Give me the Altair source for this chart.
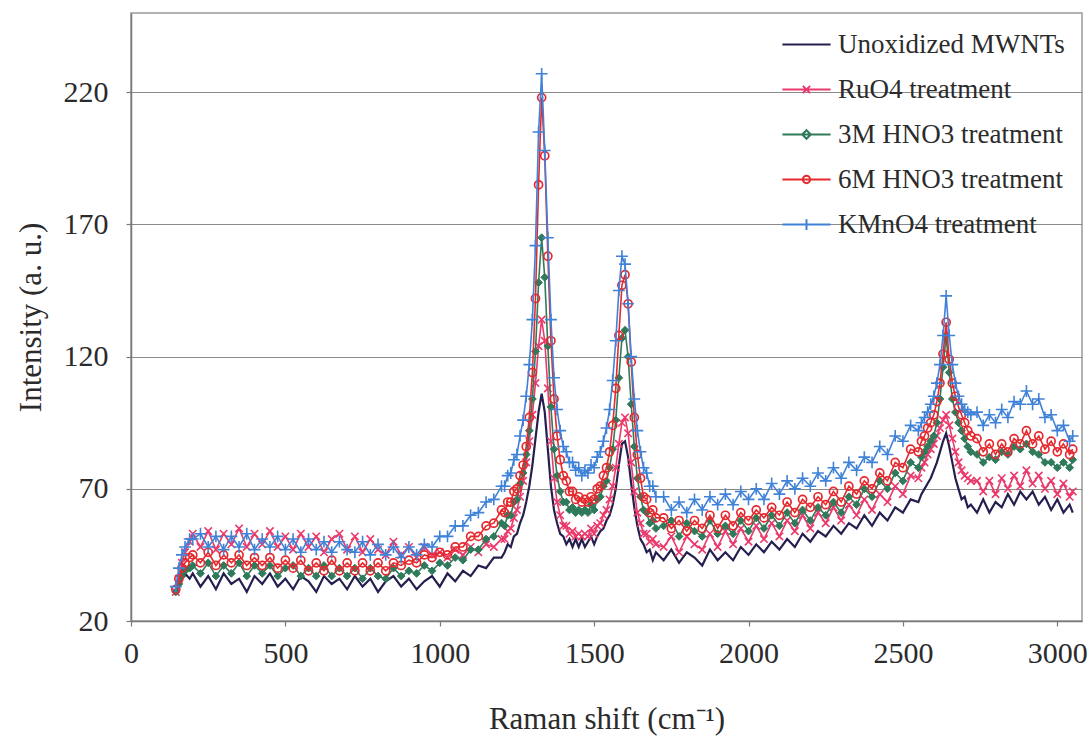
import altair as alt
import pandas as pd

# ---------------- data ----------------
raman_shift = [
    145, 155, 165, 175, 190, 200, 225, 250, 275, 300, 325, 350, 375, 400, 425, 450,
    475, 500, 525, 550, 575, 600, 625, 650, 675, 700, 725, 750, 775, 800, 825, 850,
    875, 900, 925, 950, 975, 1000, 1025, 1050, 1075, 1100, 1125, 1150, 1175, 1200,
    1210, 1220, 1230, 1240, 1250, 1260, 1270, 1280, 1290, 1300,
    1310, 1320, 1330, 1340, 1350, 1360, 1370, 1380, 1390, 1400,
    1410, 1420, 1430, 1440, 1450, 1460, 1470, 1480, 1490, 1500,
    1510, 1520, 1530, 1540, 1550, 1560, 1570, 1580, 1590, 1600,
    1610, 1620, 1630, 1640, 1650, 1660, 1670, 1680, 1690, 1700,
    1725, 1750, 1775, 1800, 1825, 1850, 1875, 1900, 1925, 1950, 1975, 2000,
    2025, 2050, 2075, 2100, 2125, 2150, 2175, 2200, 2225, 2250, 2275, 2300,
    2325, 2350, 2375, 2400, 2425, 2450, 2475, 2500, 2525, 2550,
    2560, 2570, 2580, 2590, 2600, 2610, 2620, 2630, 2640, 2650, 2660, 2670,
    2680, 2690, 2700, 2710, 2720,
    2740, 2760, 2780, 2800, 2820, 2840, 2860, 2880, 2900, 2920, 2940, 2960,
    2980, 3000, 3020, 3040, 3050,
]

unoxidized = [
    30, 33, 36, 38, 36,
    38, 33, 37, 32, 38, 34, 36, 31, 37, 34, 38, 33, 36, 32, 37, 35, 31, 37, 34, 36,
    32, 37, 33, 36, 31, 35, 37, 33, 36, 32, 35, 37, 33, 38, 35, 39, 37, 41, 40, 44, 44,
    46, 49, 48, 52, 53, 57, 60, 65, 71, 79,
    89, 99, 106, 99, 85, 71, 62, 57, 53, 52,
    49, 51, 48, 51, 48, 51, 48, 50, 52, 49,
    52, 54, 55, 58, 60, 64, 70, 79, 87, 88,
    82, 72, 63, 56, 51, 49, 46, 47, 43, 46,
    43, 47, 42, 46, 44, 41, 47, 43, 46, 43, 48, 45, 49, 46, 50, 47, 51, 48, 53, 50,
    54, 52, 56, 53, 57, 55, 60, 56, 61, 58, 63, 61, 66, 65,
    68, 70, 72, 74, 77, 80, 84, 88, 91, 86, 80, 74, 70, 66, 67, 63, 64,
    61, 66, 61, 65, 63, 68, 64, 69, 66, 69, 64, 67, 62, 66, 61, 64, 61,
]

ruo4 = [
    31, 36, 42, 46, 50,
    53, 48, 54, 47, 53, 49, 55, 48, 53, 49, 54, 48, 52, 47, 53, 48, 52, 46, 51, 53,
    47, 52, 46, 51, 47, 45, 50, 45, 48, 44, 48, 45, 46, 44, 47, 45, 48, 46, 49, 48, 51,
    51, 54, 55, 59, 62, 67, 73, 80, 88, 98,
    110, 124, 134, 126, 108, 88, 74, 65, 60, 56,
    56, 53, 54, 52, 53, 52, 53, 52, 55, 53,
    56, 57, 60, 62, 66, 71, 78, 87, 95, 97,
    91, 80, 69, 61, 57, 53, 53, 50, 51, 49,
    48, 52, 46, 52, 49, 47, 53, 48, 54, 49, 55, 50, 56, 51, 57, 52, 58, 54, 60, 55,
    61, 57, 63, 58, 64, 60, 66, 62, 68, 65, 71, 68, 75, 74,
    78, 80, 83, 85, 87, 90, 93, 96, 98, 94, 89, 84, 80, 77, 75, 74, 73,
    73, 69, 73, 68, 74, 70, 75, 71, 77, 72, 75, 70, 73, 68, 72, 67, 69,
]

hno3_3m = [
    31, 34, 37, 39, 40,
    41, 38, 42, 37, 41, 38, 42, 37, 41, 38, 41, 37, 40, 41, 37, 40, 37, 41, 37, 40,
    37, 40, 36, 40, 37, 36, 40, 37, 39, 38, 41, 39, 42, 41, 44, 43, 47, 47, 51, 52, 57,
    56, 60, 60, 65, 66, 72, 76, 83, 92, 104,
    122, 148, 165, 150, 124, 101, 85, 75, 69, 65,
    65, 62, 63, 61, 62, 61, 62, 61, 64, 62,
    66, 67, 71, 73, 78, 85, 96, 112, 127, 130,
    120, 102, 86, 74, 67, 62, 61, 57, 58, 55,
    56, 58, 52, 57, 54, 52, 58, 53, 56, 53, 58, 54, 59, 55, 60, 56, 61, 57, 62, 58,
    63, 60, 65, 61, 67, 64, 70, 67, 73, 70, 76, 73, 80, 78,
    82, 84, 86, 88, 90, 95, 104, 116, 128, 114, 104, 99, 95, 92, 89, 86, 84,
    83, 80, 82, 81, 84, 83, 86, 85, 87, 84, 83, 80, 80, 78, 80, 78, 81,
]

hno3_6m = [
    32, 36, 40, 42, 44,
    45, 42, 46, 41, 45, 42, 45, 41, 44, 41, 44, 40, 43, 40, 43, 39, 42, 39, 43, 39,
    42, 39, 42, 39, 42, 39, 42, 41, 43, 42, 45, 44, 46, 45, 48, 48, 52, 52, 56, 57, 62,
    61, 65, 65, 69, 70, 75, 79, 86, 97, 114,
    142, 185, 218, 196, 158, 126, 104, 90, 81, 75,
    73, 69, 69, 66, 67, 65, 66, 65, 67, 66,
    70, 71, 75, 78, 84, 94, 108, 128, 147, 151,
    140, 118, 97, 83, 74, 67, 66, 61, 62, 59,
    59, 55, 58, 54, 58, 55, 60, 55, 60, 56, 61, 58, 62, 59, 63, 60, 65, 61, 66, 63,
    67, 64, 69, 65, 71, 68, 73, 70, 76, 73, 80, 78, 85, 84,
    88, 90, 93, 95, 98, 103, 110, 121, 133, 119, 110, 105, 101, 98, 95, 92, 90,
    89, 84, 87, 83, 87, 84, 89, 87, 92, 87, 90, 85, 88, 84, 87, 83, 85,
]

kmno4 = [
    33, 40, 45, 48, 51,
    51, 53, 48, 52, 47, 52, 48, 53, 47, 51, 48, 52, 47, 51, 46, 51, 47, 50, 46, 50,
    47, 46, 50, 45, 49, 45, 48, 44, 48, 45, 49, 48, 52, 52, 56, 56, 60, 61, 65, 66, 71,
    71, 75, 76, 81, 83, 90, 96, 105, 117, 134,
    162, 205, 227, 198, 165, 134, 112, 100, 92, 86,
    84, 80, 80, 77, 78, 75, 77, 76, 79, 78,
    82, 84, 88, 93, 100, 111, 126, 145, 158, 155,
    140, 120, 104, 92, 84, 78, 76, 71, 71, 67,
    67, 62, 65, 61, 66, 62, 67, 64, 68, 64, 69, 66, 70, 66, 72, 68, 73, 70, 74, 71,
    76, 73, 78, 74, 80, 77, 82, 80, 86, 83, 90, 88, 94, 92,
    95, 97, 99, 102, 105, 110, 117, 128, 143, 128, 117, 110, 105, 102, 100, 99, 98,
    99, 94, 98, 95, 100, 97, 103, 102, 107, 102, 104, 97, 98, 92, 94, 88, 90,
]

series_names = ["Unoxidized MWNTs", "RuO4 treatment", "3M HNO3 treatment",
                "6M HNO3 treatment", "KMnO4 treatment"]
series_values = [unoxidized, ruo4, hno3_3m, hno3_6m, kmno4]
series_colors = ["#241f4e", "#ea3a6c", "#2f7a5b", "#e52a2f", "#3f82d8"]

x_ticks = [0, 500, 1000, 1500, 2000, 2500, 3000]
y_ticks = [20, 70, 120, 170, 220]

for v in series_values:
    assert len(v) == len(raman_shift), (len(v), len(raman_shift))

# ---------------- styling ----------------
FONT = "Liberation Serif"
TEXT = "#2b2b2b"

marker_specs = [
    None,
    dict(shape="M-1,-1L1,1M-1,1L1,-1", size=55, filled=False, strokeWidth=1.6),
    dict(shape="diamond", size=60, filled=True, strokeWidth=1),
    dict(shape="circle", size=65, filled=False, strokeWidth=1.7),
    dict(shape="M-1,0H1M0,-1V1", size=140, filled=False, strokeWidth=1.6),
]

legend_paths = [
    "M-1.12,0H1.12",
    "M-1.12,0H1.12M-0.17,-0.17L0.17,0.17M-0.17,0.17L0.17,-0.17",
    "M-1.12,0H1.12M0,-0.2L0.2,0L0,0.2L-0.2,0Z",
    "M-1.12,0H1.12M0.17,0A0.17,0.17,0,1,1,-0.17,0A0.17,0.17,0,1,1,0.17,0Z",
    "M-1.12,0H1.12M0,-0.25V0.25",
]

rows = []
for name, vals in zip(series_names, series_values):
    for xv, yv in zip(raman_shift, vals):
        rows.append({"x": xv, "y": yv, "series": name})
df = pd.DataFrame(rows)

x_enc = alt.X("x:Q", scale=alt.Scale(domain=[0, 3080], nice=False, zero=False),
              axis=alt.Axis(values=x_ticks, format="d", title="Raman shift (cm⁻¹)",
                            grid=False, labelFont=FONT, labelFontSize=30, labelColor=TEXT,
                            labelPadding=12, titleFont=FONT, titleFontSize=31,
                            titleFontWeight="normal", titleColor=TEXT, titlePadding=36,
                            tickSize=5, labelFlush=False))
y_enc = alt.Y("y:Q", scale=alt.Scale(domain=[20, 250], nice=False, zero=False),
              axis=alt.Axis(values=y_ticks, title="Intensity (a. u.)", grid=True,
                            labelFont=FONT, labelFontSize=30, labelColor=TEXT,
                            labelPadding=18, titleFont=FONT, titleFontSize=31,
                            titleFontWeight="normal", titleColor=TEXT, titlePadding=16,
                            tickSize=5))

layers = []
for name, color, spec in zip(series_names, series_colors, marker_specs):
    base = alt.Chart(df).transform_filter(alt.datum.series == name)
    layers.append(base.mark_line(color=color,
                                 strokeWidth=2.2 if spec is None else 1.6)
                  .encode(x=x_enc, y=y_enc))
    if spec is not None:
        pt = dict(shape=spec["shape"], size=spec["size"], filled=spec["filled"],
                  strokeWidth=spec["strokeWidth"], opacity=1, stroke=color)
        if spec["filled"]:
            pt["fill"] = color
        layers.append(base.mark_point(**pt).encode(x=x_enc, y=y_enc))

leg = alt.Legend(title=None, orient="none", legendX=653, legendY=9,
                 symbolSize=1849, symbolStrokeWidth=2, labelFont=FONT,
                 labelFontSize=27, labelColor=TEXT, labelOffset=9,
                 rowPadding=9, padding=0, labelLimit=400)
legend_layer = (
    alt.Chart(df)
    .transform_filter(alt.datum.x < 0)
    .mark_point(filled=False, opacity=1)
    .encode(
        x=x_enc, y=y_enc,
        color=alt.Color("series:N", scale=alt.Scale(domain=series_names, range=series_colors),
                        legend=leg),
        shape=alt.Shape("series:N", scale=alt.Scale(domain=series_names, range=legend_paths),
                        legend=leg),
    )
)
layers.append(legend_layer)

chart = (
    alt.layer(*layers)
    .properties(width=951, height=608,
                padding={"left": 131, "top": 13, "right": 8, "bottom": 130},
                autosize=alt.AutoSizeParams(type="none"),
                background="white")
    .configure_view(stroke="#9a9a9a", strokeWidth=1.5)
    .configure_axis(domainColor="#7a7a7a", domainWidth=1.5, tickColor="#7a7a7a",
                    tickWidth=1.2, gridColor="#8a8a8a", gridWidth=1.2)
)

chart.save("out.html", embed_options={"renderer": "svg", "actions": False})
